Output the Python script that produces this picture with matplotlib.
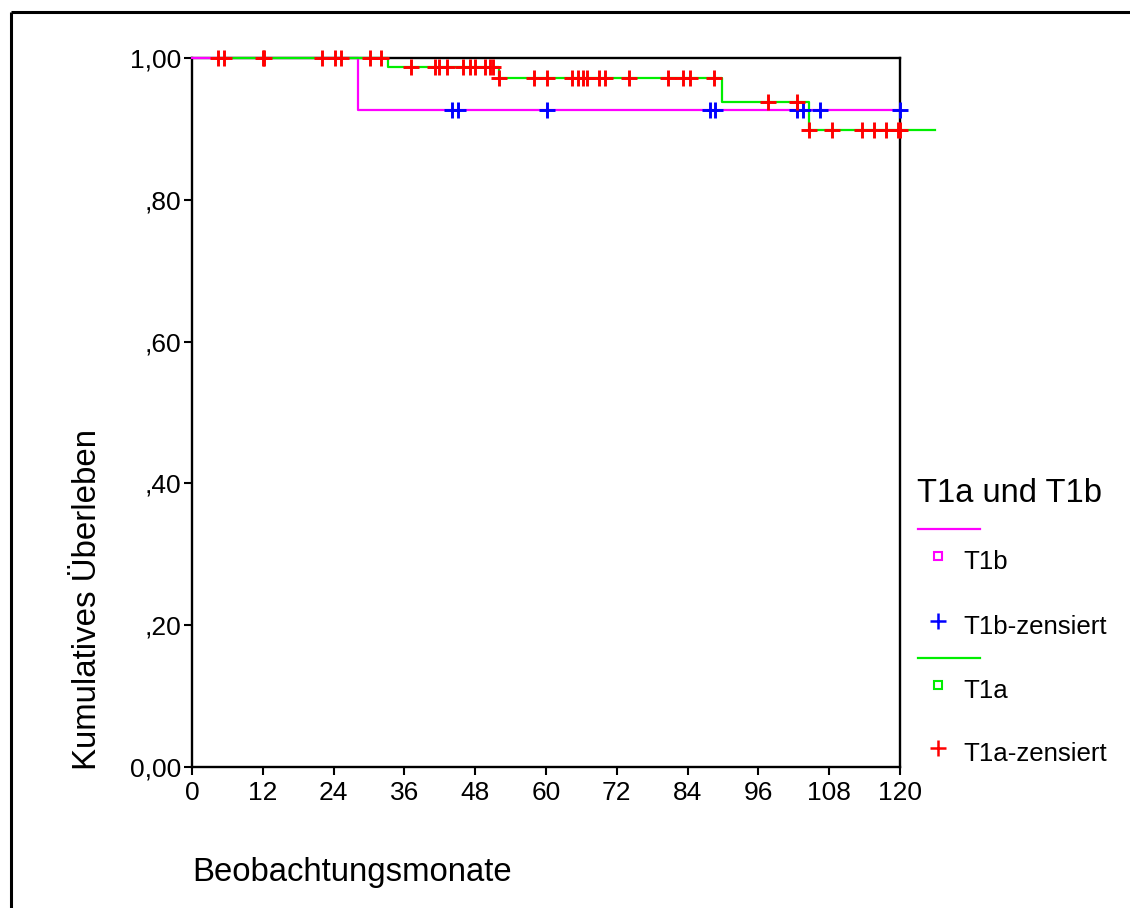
import numpy as np
import matplotlib
matplotlib.use("Agg")
import matplotlib.pyplot as plt

plt.rcParams['font.family'] = ['Liberation Sans', 'DejaVu Sans']

# ---- data ----
# Kaplan-Meier step curves: times where the curve changes and the level after it
t1a_step_times = [4.4, 33.3, 52.0, 89.8, 104.5, 126.0]
t1a_step_surv = [1.000, 0.988, 0.972, 0.938, 0.899, 0.899]
t1b_step_times = [0.0, 28.1, 120.0]
t1b_step_surv = [1.000, 0.926, 0.926]

t1a_censored = [4.4, 5.4, 12.0, 12.2, 22.0, 24.2, 25.2, 30.2, 32.1,
                37.2, 41.2, 41.8, 43.2, 46.0, 47.1, 48.0, 49.7, 50.5, 51.1,
                52.0, 57.9, 60.1, 64.4, 65.5, 66.3, 66.9, 68.9, 70.0, 74.0,
                80.7, 83.3, 84.4, 88.4,
                97.7, 102.5,
                104.5, 108.4, 113.6, 115.6, 117.6, 119.7, 120.0]
t1b_censored = [44.0, 45.1, 60.1, 87.8, 88.6, 102.5, 103.6, 106.4, 120.0]

x_ticks = [0, 12, 24, 36, 48, 60, 72, 84, 96, 108, 120]
y_ticks = [0.0, 0.2, 0.4, 0.6, 0.8, 1.0]
y_tick_labels = ["0,00", ",20", ",40", ",60", ",80", "1,00"]

legend_title = "T1a und T1b"
legend_labels = ["T1b", "T1b-zensiert", "T1a", "T1a-zensiert"]
x_label = "Beobachtungsmonate"
y_label = "Kumulatives Überleben"

c_t1b = "#ff00ff"
c_t1b_cens = "#0000ff"
c_t1a = "#00ee00"
c_t1a_cens = "#ff0000"


def level_at(times, levels, t):
    idx = np.searchsorted(np.asarray(times), t, side="right") - 1
    idx = np.clip(idx, 0, len(levels) - 1)
    return np.asarray(levels)[idx]


W, H = 1130, 908
fig = plt.figure(figsize=(W / 100, H / 100), dpi=100)

ax = fig.add_axes([192 / W, 1 - 767 / H, (900 - 192) / W, (767 - 58) / H])
ax.set_xlim(0, 120)
ax.set_ylim(0, 1)

lw = 1.6
ax.step(t1b_step_times, t1b_step_surv, where="post", color=c_t1b, lw=lw, zorder=3, clip_on=False)
ax.step(t1a_step_times, t1a_step_surv, where="post", color=c_t1a, lw=lw, zorder=4, clip_on=False)

ms, mew = 11.5, 2.1
ax.plot(t1b_censored, level_at(t1b_step_times, t1b_step_surv, t1b_censored), ls="none",
        marker="+", ms=ms, mew=mew, color=c_t1b_cens, zorder=5, clip_on=False)
ax.plot(t1a_censored, level_at(t1a_step_times, t1a_step_surv, t1a_censored), ls="none",
        marker="+", ms=ms, mew=mew, color=c_t1a_cens, zorder=6, clip_on=False)

for s in ax.spines.values():
    s.set_linewidth(1.7)
    s.set_color("black")
    s.set_zorder(2)

ax.set_xticks(x_ticks)
ax.set_yticks(y_ticks)
ax.set_yticklabels(y_tick_labels)
ax.tick_params(axis="both", direction="out", length=6, width=1.5, labelsize=19)
ax.tick_params(axis="x", pad=4)
ax.tick_params(axis="y", pad=2)

# overlay axes in pixel coordinates for labels, legend and outer frame
ov = fig.add_axes([0, 0, 1, 1])
ov.set_xlim(0, W)
ov.set_ylim(H, 0)
ov.axis("off")
ov.patch.set_alpha(0)

ov.plot([11, W], [12, 12], color="black", lw=2.2, solid_capstyle="butt")
ov.plot([11, 11], [12, H], color="black", lw=2.2, solid_capstyle="butt")

ov.text(192, 873, x_label, fontsize=23.7, ha="left", va="center")
ov.text(88, 770, y_label, fontsize=23.8, ha="center", va="bottom", rotation=90)

fs_leg = 18.6
ov.text(917, 494, legend_title, fontsize=23.5, ha="left", va="center")
ov.plot([918, 980], [529, 529], color=c_t1b, lw=1.6)
ov.plot([938], [556], marker="s", ms=6, mfc="none", mec=c_t1b, mew=1.5, ls="none")
ov.text(963, 562, legend_labels[0], fontsize=fs_leg, ha="left", va="center")
ov.plot([938], [621], marker="+", ms=11, mew=1.8, color=c_t1b_cens, ls="none")
ov.text(963, 627, legend_labels[1], fontsize=fs_leg, ha="left", va="center")
ov.plot([918, 980], [658, 658], color=c_t1a, lw=1.6)
ov.plot([938], [685], marker="s", ms=6, mfc="none", mec=c_t1a, mew=1.5, ls="none")
ov.text(963, 691, legend_labels[2], fontsize=fs_leg, ha="left", va="center")
ov.plot([938], [748], marker="+", ms=11, mew=1.8, color=c_t1a_cens, ls="none")
ov.text(963, 754, legend_labels[3], fontsize=fs_leg, ha="left", va="center")

fig.savefig("out.png", dpi=100, facecolor="white")
